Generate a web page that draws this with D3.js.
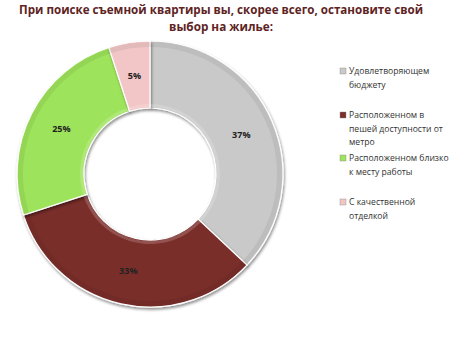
<!DOCTYPE html>
<html>
<head>
<meta charset="utf-8">
<script src="https://cdn.jsdelivr.net/npm/d3@7/dist/d3.min.js"></script>
<style>
  html, body { margin: 0; padding: 0; background: #fff; }
  svg { display: block; }
</style>
</head>
<body>
<script>
// Survey answers and their shares (%)
const categories = [
  "Удовлетворяющем бюджету",
  "Расположенном в пешей доступности от метро",
  "Расположенном близко к месту работы",
  "С качественной отделкой"
];
const values = [37, 33, 25, 5];
const colors = ["#c9c9c9", "#7a2f2c", "#9ee35c", "#f2c6c6"];
// Legend labels broken into lines as they wrap
const legendLines = [
  ["Удовлетворяющем", "бюджету"],
  ["Расположенном в", "пешей доступности от", "метро"],
  ["Расположенном близко", "к месту работы"],
  ["С качественной", "отделкой"]
];
const titleLines = [
  "При поиске съемной квартиры вы, скорее всего, остановите свой",
  "выбор на жилье:"
];

const W = 465, H = 343;
const svg = d3.select("body").append("svg").attr("width", W).attr("height", H);

const defs = svg.append("defs");
const f = defs.append("filter").attr("id", "shadow")
  .attr("x", "-20%").attr("y", "-20%").attr("width", "140%").attr("height", "140%");
f.append("feGaussianBlur").attr("in", "SourceAlpha").attr("stdDeviation", 1.5).attr("result", "b");
f.append("feOffset").attr("in", "b").attr("dx", 1).attr("dy", 1.5).attr("result", "o");
f.append("feComponentTransfer").attr("in", "o").attr("result", "s")
  .append("feFuncA").attr("type", "linear").attr("slope", 0.45);
const m = f.append("feMerge");
m.append("feMergeNode").attr("in", "s");
m.append("feMergeNode").attr("in", "SourceGraphic");

// Title
svg.append("g").selectAll("text").data(titleLines).join("text")
  .attr("x", 221).attr("y", (d, i) => 14 + i * 17)
  .attr("text-anchor", "middle")
  .attr("font-family", "'Open Sans', 'DejaVu Sans', sans-serif")
  .attr("font-weight", "bold").attr("font-size", 12.5)
  .attr("fill", "#5e2323")
  .attr("textLength", (d, i) => i === 0 ? 404 : 104)
  .attr("lengthAdjust", "spacingAndGlyphs")
  .text(d => d);

// Doughnut
const cx = 150, cy = 174, rOuter = 133, rInner = 66;
const pie = d3.pie().sort(null).value(d => d);
const arcs = pie(values);
const arc = d3.arc().innerRadius(rInner).outerRadius(rOuter);
const g = svg.append("g").attr("transform", `translate(${cx},${cy})`);

g.selectAll("path.slice").data(arcs).join("path")
  .attr("class", "slice")
  .attr("d", arc)
  .attr("fill", (d, i) => colors[i])
  .attr("stroke", "#ffffff").attr("stroke-width", 1.2)
  .attr("filter", "url(#shadow)");

// Bevel highlight near the outer and inner rims
const rimOuter = d3.arc().innerRadius(rOuter - 6).outerRadius(rOuter - 1);
g.selectAll("path.rim").data(arcs).join("path")
  .attr("class", "rim")
  .attr("d", rimOuter)
  .attr("fill", "#000").attr("opacity", 0.06);
const rimInner = d3.arc().innerRadius(rInner + 1).outerRadius(rInner + 4);
g.selectAll("path.rimi").data(arcs).join("path")
  .attr("class", "rimi")
  .attr("d", rimInner)
  .attr("fill", "#fff").attr("opacity", 0.18);

// Value labels at slice centroids
g.selectAll("text.val").data(arcs).join("text")
  .attr("class", "val")
  .attr("transform", d => `translate(${arc.centroid(d)})`)
  .attr("text-anchor", "middle").attr("dy", "0.35em")
  .attr("font-family", "'Open Sans', 'DejaVu Sans', sans-serif")
  .attr("font-size", 9).attr("font-weight", "bold")
  .attr("fill", "#222")
  .text(d => d.data + "%");

// Legend
const legendTop = [74, 118, 161, 205];
const lg = svg.append("g");
legendLines.forEach((lines, i) => {
  const y0 = legendTop[i];
  lg.append("rect")
    .attr("x", 340).attr("y", y0 - 6).attr("width", 6).attr("height", 6)
    .attr("fill", colors[i]).attr("stroke", "#888").attr("stroke-width", 0.4);
  lg.append("g").selectAll("text").data(lines).join("text")
    .attr("x", 349).attr("y", (d, j) => y0 + j * 13.5)
    .attr("font-family", "'Open Sans', 'DejaVu Sans', sans-serif")
    .attr("font-size", 8.6).attr("fill", "#333")
    .text(d => d);
});
</script>
</body>
</html>
